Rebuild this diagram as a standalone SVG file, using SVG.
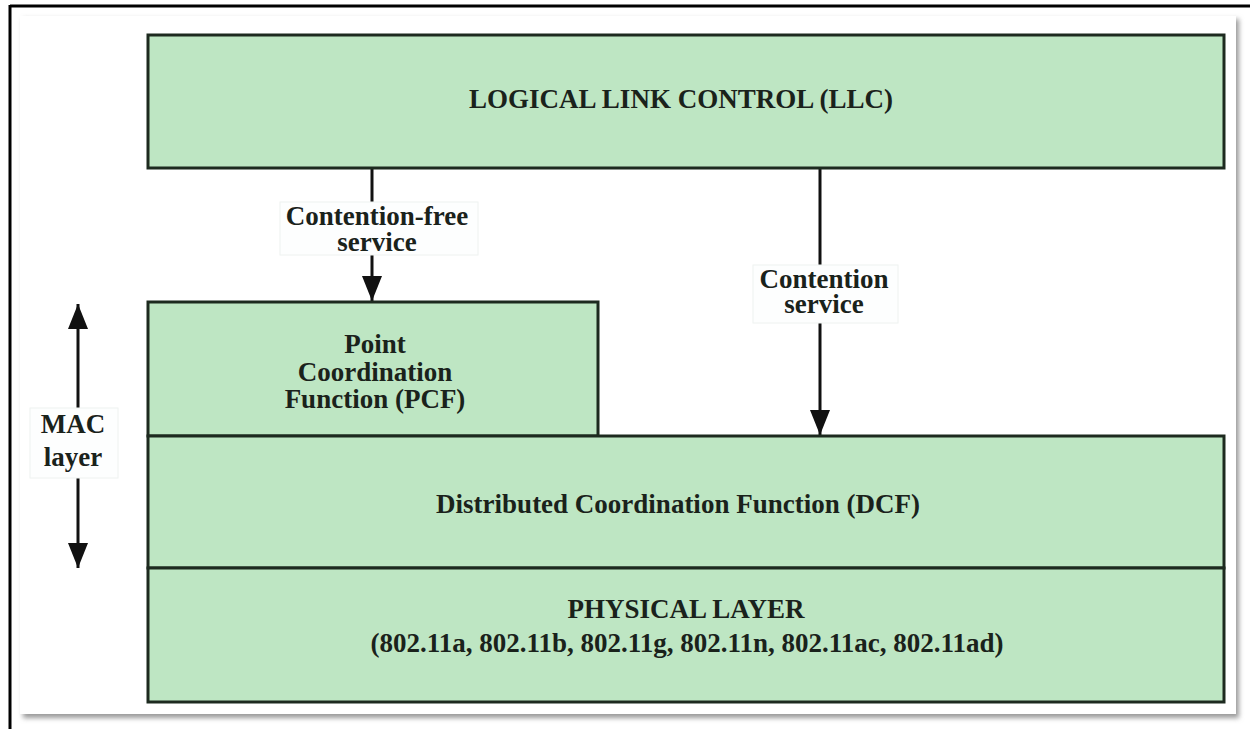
<svg xmlns="http://www.w3.org/2000/svg" width="1250" height="729" viewBox="0 0 1250 729">
  <defs>
    <filter id="sh" x="-5%" y="-5%" width="110%" height="110%">
      <feGaussianBlur stdDeviation="2.5"/>
    </filter>
    <marker id="ah" viewBox="0 0 25 20" refX="25" refY="10" markerWidth="25" markerHeight="20" markerUnits="userSpaceOnUse" orient="auto-start-reverse">
      <path d="M0,0 L25,10 L0,20 Z" fill="#111"/>
    </marker>
  </defs>
  <style>
    .box { fill: #bee6c3; stroke: #1d2a1f; stroke-width: 3; }
    .t { font-family: "Liberation Serif", "Times New Roman", serif; font-weight: bold; font-size: 27px; fill: #1a221b; text-anchor: middle; }
    .lbl { fill: #fdfefe; stroke: #eef2f0; stroke-width: 1; }
    .ln { stroke: #111; stroke-width: 3; fill: none; }
  </style>
  <rect x="0" y="0" width="1250" height="729" fill="#ffffff"/>
  <!-- outer frame -->
  <rect x="23" y="19" width="1216" height="699" fill="#9a9a9a" filter="url(#sh)"/>
  <rect x="20" y="16" width="1216" height="698" fill="#ffffff"/>
  <line x1="10" y1="6" x2="1250" y2="6" stroke="#000" stroke-width="3"/>
  <line x1="10" y1="5" x2="10" y2="729" stroke="#000" stroke-width="3"/>

  <g id="connectors">
    <line class="ln" x1="372" y1="168" x2="372" y2="203"/>
    <line class="ln" x1="372" y1="255" x2="372" y2="301" marker-end="url(#ah)"/>
    <line class="ln" x1="820" y1="168" x2="820" y2="266"/>
    <line class="ln" x1="820" y1="322" x2="820" y2="435" marker-end="url(#ah)"/>
    <line class="ln" x1="78" y1="304" x2="78" y2="409" marker-start="url(#ah)"/>
    <line class="ln" x1="78" y1="477" x2="78" y2="568" marker-end="url(#ah)"/>
  </g>

  <g id="label-contention-free">
    <rect class="lbl" x="280" y="202" width="198" height="53"/>
    <text class="t" x="377" y="225">Contention-free</text>
    <text class="t" x="377" y="251">service</text>
  </g>
  <g id="label-contention">
    <rect class="lbl" x="753" y="265" width="145" height="58"/>
    <text class="t" x="824" y="288">Contention</text>
    <text class="t" x="824" y="313">service</text>
  </g>
  <g id="label-mac">
    <rect class="lbl" x="30" y="408" width="88" height="70"/>
    <text class="t" x="73" y="433">MAC</text>
    <text class="t" x="73" y="466">layer</text>
  </g>

  <g id="llc">
    <rect class="box" x="148" y="35" width="1076" height="133"/>
    <text class="t" x="681" y="108">LOGICAL LINK CONTROL (LLC)</text>
  </g>
  <g id="pcf">
    <rect class="box" x="148" y="302" width="450" height="134"/>
    <text class="t" x="375" y="353">Point</text>
    <text class="t" x="375" y="381">Coordination</text>
    <text class="t" x="375" y="408">Function (PCF)</text>
  </g>
  <g id="dcf">
    <rect class="box" x="148" y="436" width="1076" height="132"/>
    <text class="t" x="678" y="513">Distributed Coordination Function (DCF)</text>
  </g>
  <g id="phy">
    <rect class="box" x="148" y="568" width="1076" height="134"/>
    <text class="t" x="686" y="618">PHYSICAL LAYER</text>
    <text class="t" x="687" y="652">(802.11a, 802.11b, 802.11g, 802.11n, 802.11ac, 802.11ad)</text>
  </g>
</svg>
